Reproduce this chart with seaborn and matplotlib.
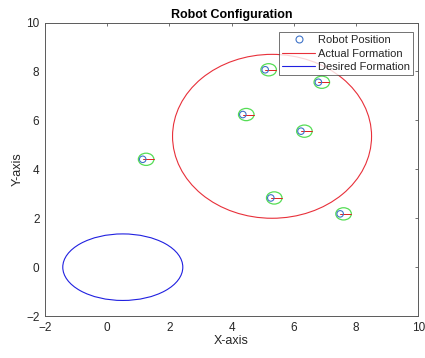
import numpy as np
import pandas as pd
import matplotlib
matplotlib.use("Agg")
import matplotlib.pyplot as plt
from matplotlib.patches import Ellipse
from matplotlib.lines import Line2D
import seaborn as sns

# ---- data ----
robot_x = [5.08, 6.79, 4.36, 6.23, 1.14, 5.26, 7.49]
robot_y = [8.07, 7.56, 6.24, 5.56, 4.41, 2.83, 2.18]
robot_heading_deg = [0, 0, 0, 0, 0, 0, 0]

actual_center = (5.3, 5.35)
actual_radii = (3.2, 3.35)
desired_center = (0.5, 0.0)
desired_radii = (1.93, 1.36)

x_ticks = [-2, 0, 2, 4, 6, 8, 10]
y_ticks = [-2, 0, 2, 4, 6, 8, 10]

sns.set_style("white")
plt.rcParams['font.family'] = ['Liberation Sans', 'DejaVu Sans']

fig = plt.figure(figsize=(4.25, 3.58), dpi=100)
ax = fig.add_axes([0.106, 0.117, 0.878, 0.82])

axis_col = '#5a5a5a'
text_col = '#262626'

# formations
ax.add_patch(Ellipse(actual_center, 2 * actual_radii[0], 2 * actual_radii[1],
                     fill=False, edgecolor='#e8303a', lw=0.8, zorder=2))
ax.add_patch(Ellipse(desired_center, 2 * desired_radii[0], 2 * desired_radii[1],
                     fill=False, edgecolor='#2020e0', lw=0.8, zorder=2))

# robot bodies and headings
body_r = 0.25
head_len = 0.35
for x, y, h in zip(robot_x, robot_y, robot_heading_deg):
    t = np.deg2rad(h)
    cx, cy = x + 0.11 * np.cos(t), y + 0.11 * np.sin(t)
    ax.add_patch(Ellipse((cx, cy), 2 * body_r, 2 * body_r, fill=False,
                         edgecolor='#55dd55', lw=0.9, zorder=3))
    ax.plot([x, x + head_len * np.cos(t)], [y, y + head_len * np.sin(t)],
            color='#e02020', lw=0.7, zorder=4)

df = pd.DataFrame({'x': robot_x, 'y': robot_y})
sns.scatterplot(data=df, x='x', y='y', ax=ax, marker='o', s=22,
                facecolors='none', edgecolor='#3f73c8', linewidth=0.8,
                zorder=5, legend=False)

ax.set_xlim(-2, 10)
ax.set_ylim(-2, 10)
ax.set_xticks(x_ticks)
ax.set_yticks(y_ticks)
ax.tick_params(direction='in', length=2.5, width=0.6, colors=axis_col,
               labelcolor=text_col, labelsize=8.5, top=True, right=True,
               pad=4)
for s in ax.spines.values():
    s.set_color(axis_col)
    s.set_linewidth(0.7)

ax.set_xlabel('X-axis', fontsize=9, color=text_col, labelpad=1)
ax.set_ylabel('Y-axis', fontsize=9, color=text_col, labelpad=2)
ax.set_title('Robot Configuration', fontsize=9, fontweight='bold',
             color='black', pad=3)

handles = [
    Line2D([], [], ls='none', marker='o', markersize=5, markerfacecolor='none',
           markeredgecolor='#3f73c8', markeredgewidth=0.8),
    Line2D([], [], color='#e8303a', lw=0.8),
    Line2D([], [], color='#2020e0', lw=0.8),
]
labels = ['Robot Position', 'Actual Formation', 'Desired Formation']
leg = ax.legend(handles, labels, loc='upper right', fontsize=8,
                frameon=True, fancybox=False, borderpad=0.3,
                handlelength=2.9, handletextpad=0.3, labelspacing=0.3,
                borderaxespad=0.0, bbox_to_anchor=(0.987, 0.968))
leg.get_frame().set_edgecolor('#333333')
leg.get_frame().set_linewidth(0.6)

fig.savefig('out.png', dpi=100)
